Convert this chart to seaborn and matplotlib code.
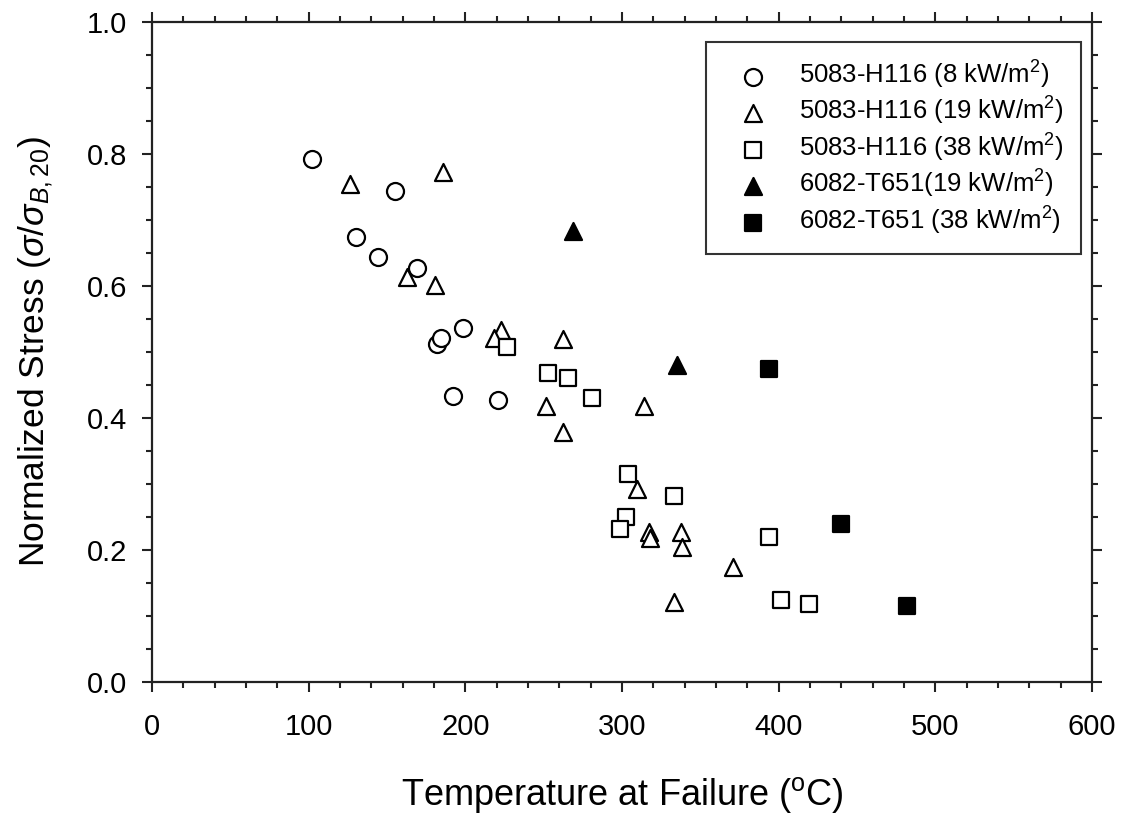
# 정규화 응력 vs 파손 온도 산점도

import numpy as np
import pandas as pd
import matplotlib
matplotlib.use('Agg')
import matplotlib.pyplot as plt
import seaborn as sns
from matplotlib.ticker import MultipleLocator

# 5083-H116 (8 kW/m2)
t_8 = [102, 130, 144, 155, 169, 182, 184.5, 192, 198.5, 221]
s_8 = [0.792, 0.674, 0.644, 0.744, 0.627, 0.512, 0.521, 0.433, 0.536, 0.427]

# 5083-H116 (19 kW/m2)
t_19 = [126.5, 186, 163, 180.5, 223, 218, 262, 251.5, 262, 314, 309.5, 317, 318, 337.5, 338, 371, 333]
s_19 = [0.754, 0.772, 0.613, 0.601, 0.533, 0.521, 0.520, 0.418, 0.379, 0.418, 0.292, 0.227, 0.218, 0.227, 0.205, 0.174, 0.121]

# 5083-H116 (38 kW/m2)
t_38 = [226.5, 253, 265.5, 281, 304, 333, 302.5, 298.5, 394, 401.5, 419.5]
s_38 = [0.508, 0.468, 0.461, 0.430, 0.315, 0.282, 0.250, 0.232, 0.220, 0.124, 0.118]

# 6082-T651 (19 kW/m2)
t_6_19 = [268.7, 335]
s_6_19 = [0.683, 0.480]

# 6082-T651 (38 kW/m2)
t_6_38 = [394, 440, 482]
s_6_38 = [0.474, 0.239, 0.115]

labels = [r'5083-H116 (8 kW/m$^2$)', r'5083-H116 (19 kW/m$^2$)', r'5083-H116 (38 kW/m$^2$)',
          r'6082-T651(19 kW/m$^2$)', r'6082-T651 (38 kW/m$^2$)']

frames = []
for lab, t, s in zip(labels, [t_8, t_19, t_38, t_6_19, t_6_38], [s_8, s_19, s_38, s_6_19, s_6_38]):
    frames.append(pd.DataFrame({'temp': t, 'stress': s, 'series': lab}))
df = pd.concat(frames, ignore_index=True)

sns.set_style('ticks')
plt.rcParams['font.family'] = ['Liberation Sans', 'DejaVu Sans']
plt.rcParams['mathtext.fontset'] = 'custom'
plt.rcParams['mathtext.rm'] = 'Liberation Sans'
plt.rcParams['mathtext.it'] = 'Liberation Sans:italic'
plt.rcParams['mathtext.bf'] = 'Liberation Sans:bold'
for k in ['text.color', 'axes.labelcolor', 'xtick.color', 'ytick.color']:
    plt.rcParams[k] = 'black'

fig = plt.figure(figsize=(11.27, 8.15), dpi=100)
ax = fig.add_axes([0.1349, 0.1632, 0.8341, 0.8098])

styles = [('o', 'white'), ('^', 'white'), ('s', 'white'), ('^', 'black'), ('s', 'black')]
sizes = [150, 150, 130, 150, 130]
for lab, (m, fc), sz in zip(labels, styles, sizes):
    sub = df[df['series'] == lab]
    sns.scatterplot(data=sub, x='temp', y='stress', ax=ax, marker=m, s=sz,
                    facecolor=fc, edgecolor='black', linewidth=1.6, label=lab, zorder=3)

ax.set_xlim(0, 600)
ax.set_ylim(0, 1.0)
ax.xaxis.set_major_locator(MultipleLocator(100))
ax.xaxis.set_minor_locator(MultipleLocator(20))
ax.yaxis.set_major_locator(MultipleLocator(0.2))
ax.yaxis.set_minor_locator(MultipleLocator(0.05))
ax.yaxis.set_major_formatter(matplotlib.ticker.FormatStrFormatter('%.1f'))

ax.tick_params(which='both', direction='out', top=True, right=True, width=1.5, color='#222222')
ax.tick_params(which='major', length=7, labelsize=21)
ax.tick_params(axis='x', which='major', pad=15)
ax.tick_params(axis='y', which='major', pad=11)
ax.tick_params(which='minor', length=4.5)
for sp in ax.spines.values():
    sp.set_linewidth(1.6)
    sp.set_color('#222222')

ax.set_xlabel(r'Temperature at Failure ($\mathregular{^{o}}$C)', fontsize=26, labelpad=25)
ax.set_ylabel(r'Normalized Stress ($\sigma/\sigma_{B,20}$)', fontsize=25.5, labelpad=22)

leg = ax.legend(loc='upper right', bbox_to_anchor=(0.988, 0.970), fontsize=18.5, frameon=True,
                fancybox=False, edgecolor='black', markerscale=1.0, labelspacing=0.17,
                borderpad=0.65, handlelength=2.4, handletextpad=0.6, borderaxespad=0)
leg.get_frame().set_linewidth(1.5)

fig.savefig('out.png', dpi=100)
